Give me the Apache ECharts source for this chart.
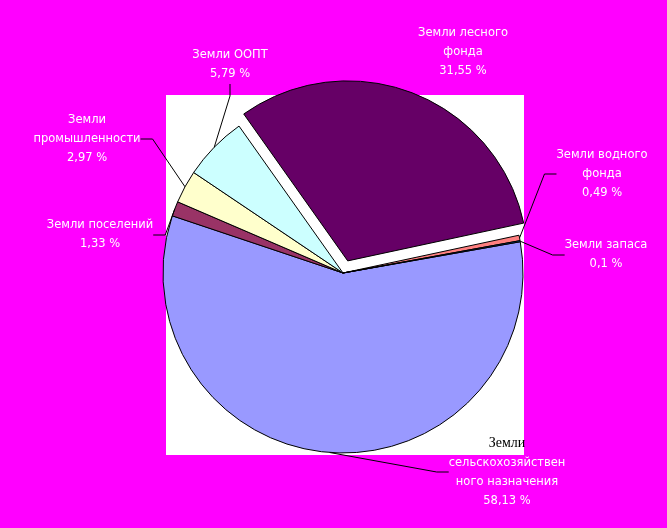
<!DOCTYPE html>
<html>
<head>
<meta charset="utf-8">
<script src="https://cdn.jsdelivr.net/npm/echarts@6/dist/echarts.min.js"></script>
<style>
html,body{margin:0;padding:0;background:#FF00FF;}
#c{width:667px;height:528px;}
</style>
</head>
<body>
<div id="c"></div>
<script>
// Data
const categories = [
  'Земли\nсельскохозяйствен\nного назначения',
  'Земли поселений',
  'Земли\nпромышленности',
  'Земли ООПТ',
  'Земли лесного\nфонда',
  'Земли водного\nфонда',
  'Земли запаса'
];
const values = [58.13, 1.33, 2.97, 5.79, 31.55, 0.49, 0.1];

// Styles / layout (not data)
const colors = ['#9999FF', '#993366', '#FFFFCC', '#CCFFFF', '#660066', '#FF8080', '#0066CC'];
const labelPos = [[507, 472], [100, 235], [87, 139], [230, 65], [463, 52], [602, 174], [606, 255]];
const exploded = [false, false, false, false, true, false, false];
const showLine = [true, true, true, true, false, true, true];

const chart = echarts.init(document.getElementById('c'), null, {renderer: 'canvas'});

function fmtVal(v) { return String(v).replace('.', ',') + ' %'; }

const pieData = categories.map((n, i) => ({
  name: n,
  value: values[i],
  selected: exploded[i],
  itemStyle: {color: colors[i]}
}));

const labelData = categories.map((n, i) => ({
  name: n,
  value: values[i],
  labelLine: {show: showLine[i]}
}));

const common = {
  type: 'pie',
  center: [343, 273],
  radius: 180,
  startAngle: 10,
  clockwise: true,
  animation: false
};

chart.setOption({
  backgroundColor: '#FF00FF',
  animation: false,
  graphic: [{
    type: 'rect', z: -1,
    shape: {x: 166, y: 95, width: 358, height: 360},
    style: {fill: '#FFFFFF'}
  }],
  series: [
    Object.assign({}, common, {
      selectedMode: 'single',
      selectedOffset: 13,
      emphasis: {disabled: true},
      itemStyle: {borderColor: '#000', borderWidth: 1},
      label: {show: false},
      labelLine: {show: false},
      data: pieData
    }),
    Object.assign({}, common, {
      silent: true,
      z: 3,
      emphasis: {disabled: true},
      itemStyle: {color: 'rgba(0,0,0,0)', borderWidth: 0},
      label: {
        show: true,
        position: 'outside',
        color: '#FFFFFF',
        fontFamily: 'DejaVu Sans',
        fontSize: 11.5,
        lineHeight: 19,
        align: 'center',
        formatter: function (p) {
          const lines = p.name.split('\n');
          if (p.dataIndex === 0) {
            return '{k|' + lines[0] + '}\n' + lines.slice(1).join('\n') + '\n' + fmtVal(p.value);
          }
          return p.name + '\n' + fmtVal(p.value);
        },
        rich: {
          k: {color: '#000', fontFamily: 'Liberation Serif', fontSize: 14, lineHeight: 21}
        }
      },
      labelLine: {show: true, length: 12, length2: 12, lineStyle: {color: '#000', width: 1}},
      labelLayout: function (params) {
        const pos = labelPos[params.dataIndex];
        return {x: pos[0], y: pos[1], align: 'center', verticalAlign: 'middle'};
      },
      data: labelData
    })
  ]
});
</script>
</body>
</html>
